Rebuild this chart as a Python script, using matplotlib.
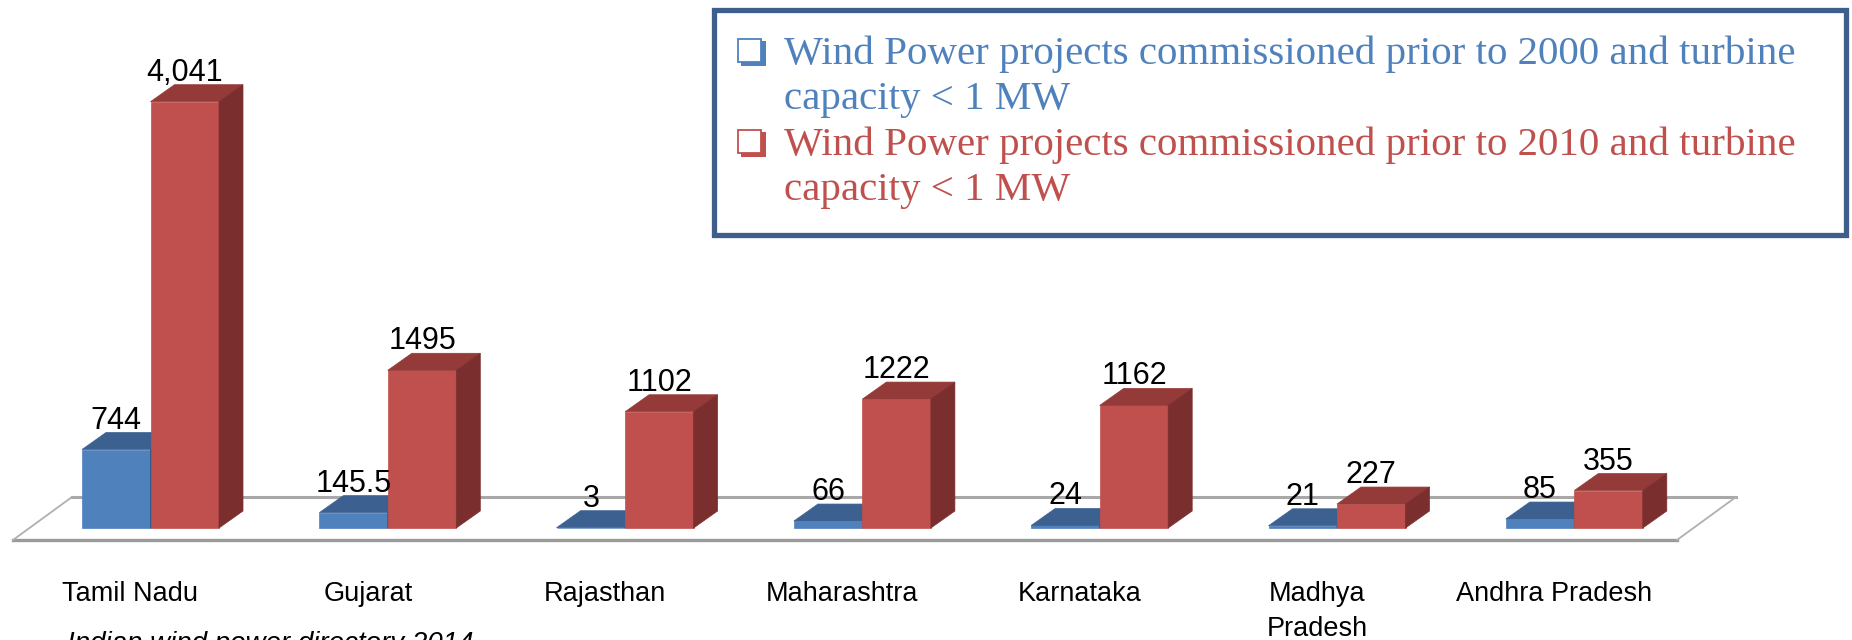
import matplotlib.pyplot as plt
from matplotlib.patches import Polygon, Rectangle

# data
states = ['Tamil Nadu', 'Gujarat', 'Rajasthan', 'Maharashtra', 'Karnataka',
          'Madhya\nPradesh', 'Andhra Pradesh']
prior_2000 = [744, 145.5, 3, 66, 24, 21, 85]
prior_2010 = [4041, 1495, 1102, 1222, 1162, 227, 355]
labels_2000 = ['744', '145.5', '3', '66', '24', '21', '85']
labels_2010 = ['4,041', '1495', '1102', '1222', '1162', '227', '355']
legend_lines = [
    ['Wind Power projects commissioned prior to 2000 and turbine', 'capacity < 1 MW'],
    ['Wind Power projects commissioned prior to 2010 and turbine', 'capacity < 1 MW'],
]
source = 'Indian wind power directory 2014'

# colours: front, top, side
blue = ('#4F81BD', '#3C6191', '#30507A')
red = ('#C0504D', '#943A38', '#7A2F2E')
legend_cols = ['#4F81BD', '#C0504D']

# layout (pixels in a 1852x640 image)
W, H = 1852, 640
STEP_PX = 237.3      # distance between groups
UNIT_PX = 0.1055     # pixels per MW
X0_PX = 150.5        # centre of first group
Y0_PX = 528          # base of the bars
BAR_PX = 68.5
DEPTH_DX, DEPTH_DY = 24, 17

fig = plt.figure(figsize=(W / 100, H / 100), dpi=100)
ax = fig.add_axes([0, 0, 1, 1])
ax.set_xlim(-X0_PX / STEP_PX, (W - X0_PX) / STEP_PX)
ax.set_ylim(-(H - Y0_PX) / UNIT_PX, Y0_PX / UNIT_PX)
ax.axis('off')


def px_x(p):
    return (p - X0_PX) / STEP_PX


def px_y(p):
    return (Y0_PX - p) / UNIT_PX


bw = BAR_PX / STEP_PX
dx = DEPTH_DX / STEP_PX
dy = DEPTH_DY / UNIT_PX

# floor
fl = [(px_x(13), px_y(540)), (px_x(1677), px_y(540)),
      (px_x(1736), px_y(497)), (px_x(72), px_y(497))]
ax.add_patch(Polygon(fl, closed=True, fc='white', ec='none', zorder=1))
ax.plot([fl[0][0], fl[1][0]], [fl[0][1], fl[1][1]], color='#9A9A9A', lw=2.4, zorder=2)
ax.plot([fl[3][0], fl[2][0]], [fl[3][1], fl[2][1]], color='#A8A8A8', lw=2.2, zorder=2)
ax.plot([fl[0][0], fl[3][0]], [fl[0][1], fl[3][1]], color='#B0B0B0', lw=1.3, zorder=2)
ax.plot([fl[1][0], fl[2][0]], [fl[1][1], fl[2][1]], color='#B0B0B0', lw=1.3, zorder=2)


def bar3d(x, h, cols, z):
    front, top, side = cols
    ax.add_patch(Polygon([(x, 0), (x + bw, 0), (x + bw, h), (x, h)],
                         fc=front, ec=front, lw=0.5, zorder=z))
    ax.add_patch(Polygon([(x, h), (x + bw, h), (x + bw + dx, h + dy), (x + dx, h + dy)],
                         fc=top, ec=top, lw=0.5, zorder=z))
    ax.add_patch(Polygon([(x + bw, 0), (x + bw + dx, dy), (x + bw + dx, h + dy), (x + bw, h)],
                         fc=side, ec=side, lw=0.5, zorder=z))


val_font = dict(family='Liberation Sans', fontsize=22, color='black',
                ha='center', va='baseline', zorder=10)
for i in range(len(states)):
    bar3d(i - bw, prior_2000[i], blue, 3 + 2 * i)
    bar3d(i, prior_2010[i], red, 4 + 2 * i)
    ax.text(i - bw / 2, prior_2000[i] + dy + 4 / UNIT_PX, labels_2000[i], **val_font)
    ax.text(i + bw / 2, prior_2010[i] + dy + 4 / UNIT_PX, labels_2010[i], **val_font)
    ax.text(i - 20 / STEP_PX, px_y(581), states[i], family='Liberation Sans',
            fontsize=19.5, ha='center', va='top', linespacing=1.45)

# legend box
fig.patches.append(Rectangle((714 / W, 1 - 235 / H), (1846 - 714) / W, (235 - 10) / H,
                             transform=fig.transFigure, fc='white', ec='#3E5F8C',
                             lw=3.8, zorder=20))

# size the serif legend text so the long line spans the same width as the original
probe = fig.text(0, 0, legend_lines[0][0], family='Liberation Serif', fontsize=26)
renderer = fig.canvas.get_renderer()
leg_size = 26 * (1798 - 784) / probe.get_window_extent(renderer).width
probe.remove()

baselines = [(64, 109), (155, 200)]
for k in range(2):
    c = legend_cols[k]
    b1, b2 = baselines[k]
    # shadowed check box
    fig.patches.append(Rectangle((741 / W, 1 - (b1 + 2) / H), 25 / W, 25 / H,
                                 transform=fig.transFigure, fc=c, ec='none', zorder=21))
    fig.patches.append(Rectangle((738 / W, 1 - (b1 - 2) / H), 23 / W, 23 / H,
                                 transform=fig.transFigure, fc='white', ec=c,
                                 lw=1.3, zorder=22))
    fig.text(784 / W, 1 - b1 / H, legend_lines[k][0], family='Liberation Serif',
             fontsize=leg_size, color=c, va='baseline', zorder=23)
    fig.text(784 / W, 1 - b2 / H, legend_lines[k][1], family='Liberation Serif',
             fontsize=leg_size, color=c, va='baseline', zorder=23)

fig.text(67 / W, 1 - 631 / H, source, family='Liberation Sans', fontsize=20,
         style='italic', va='top')

fig.savefig('out.png', dpi=100, facecolor='white')
